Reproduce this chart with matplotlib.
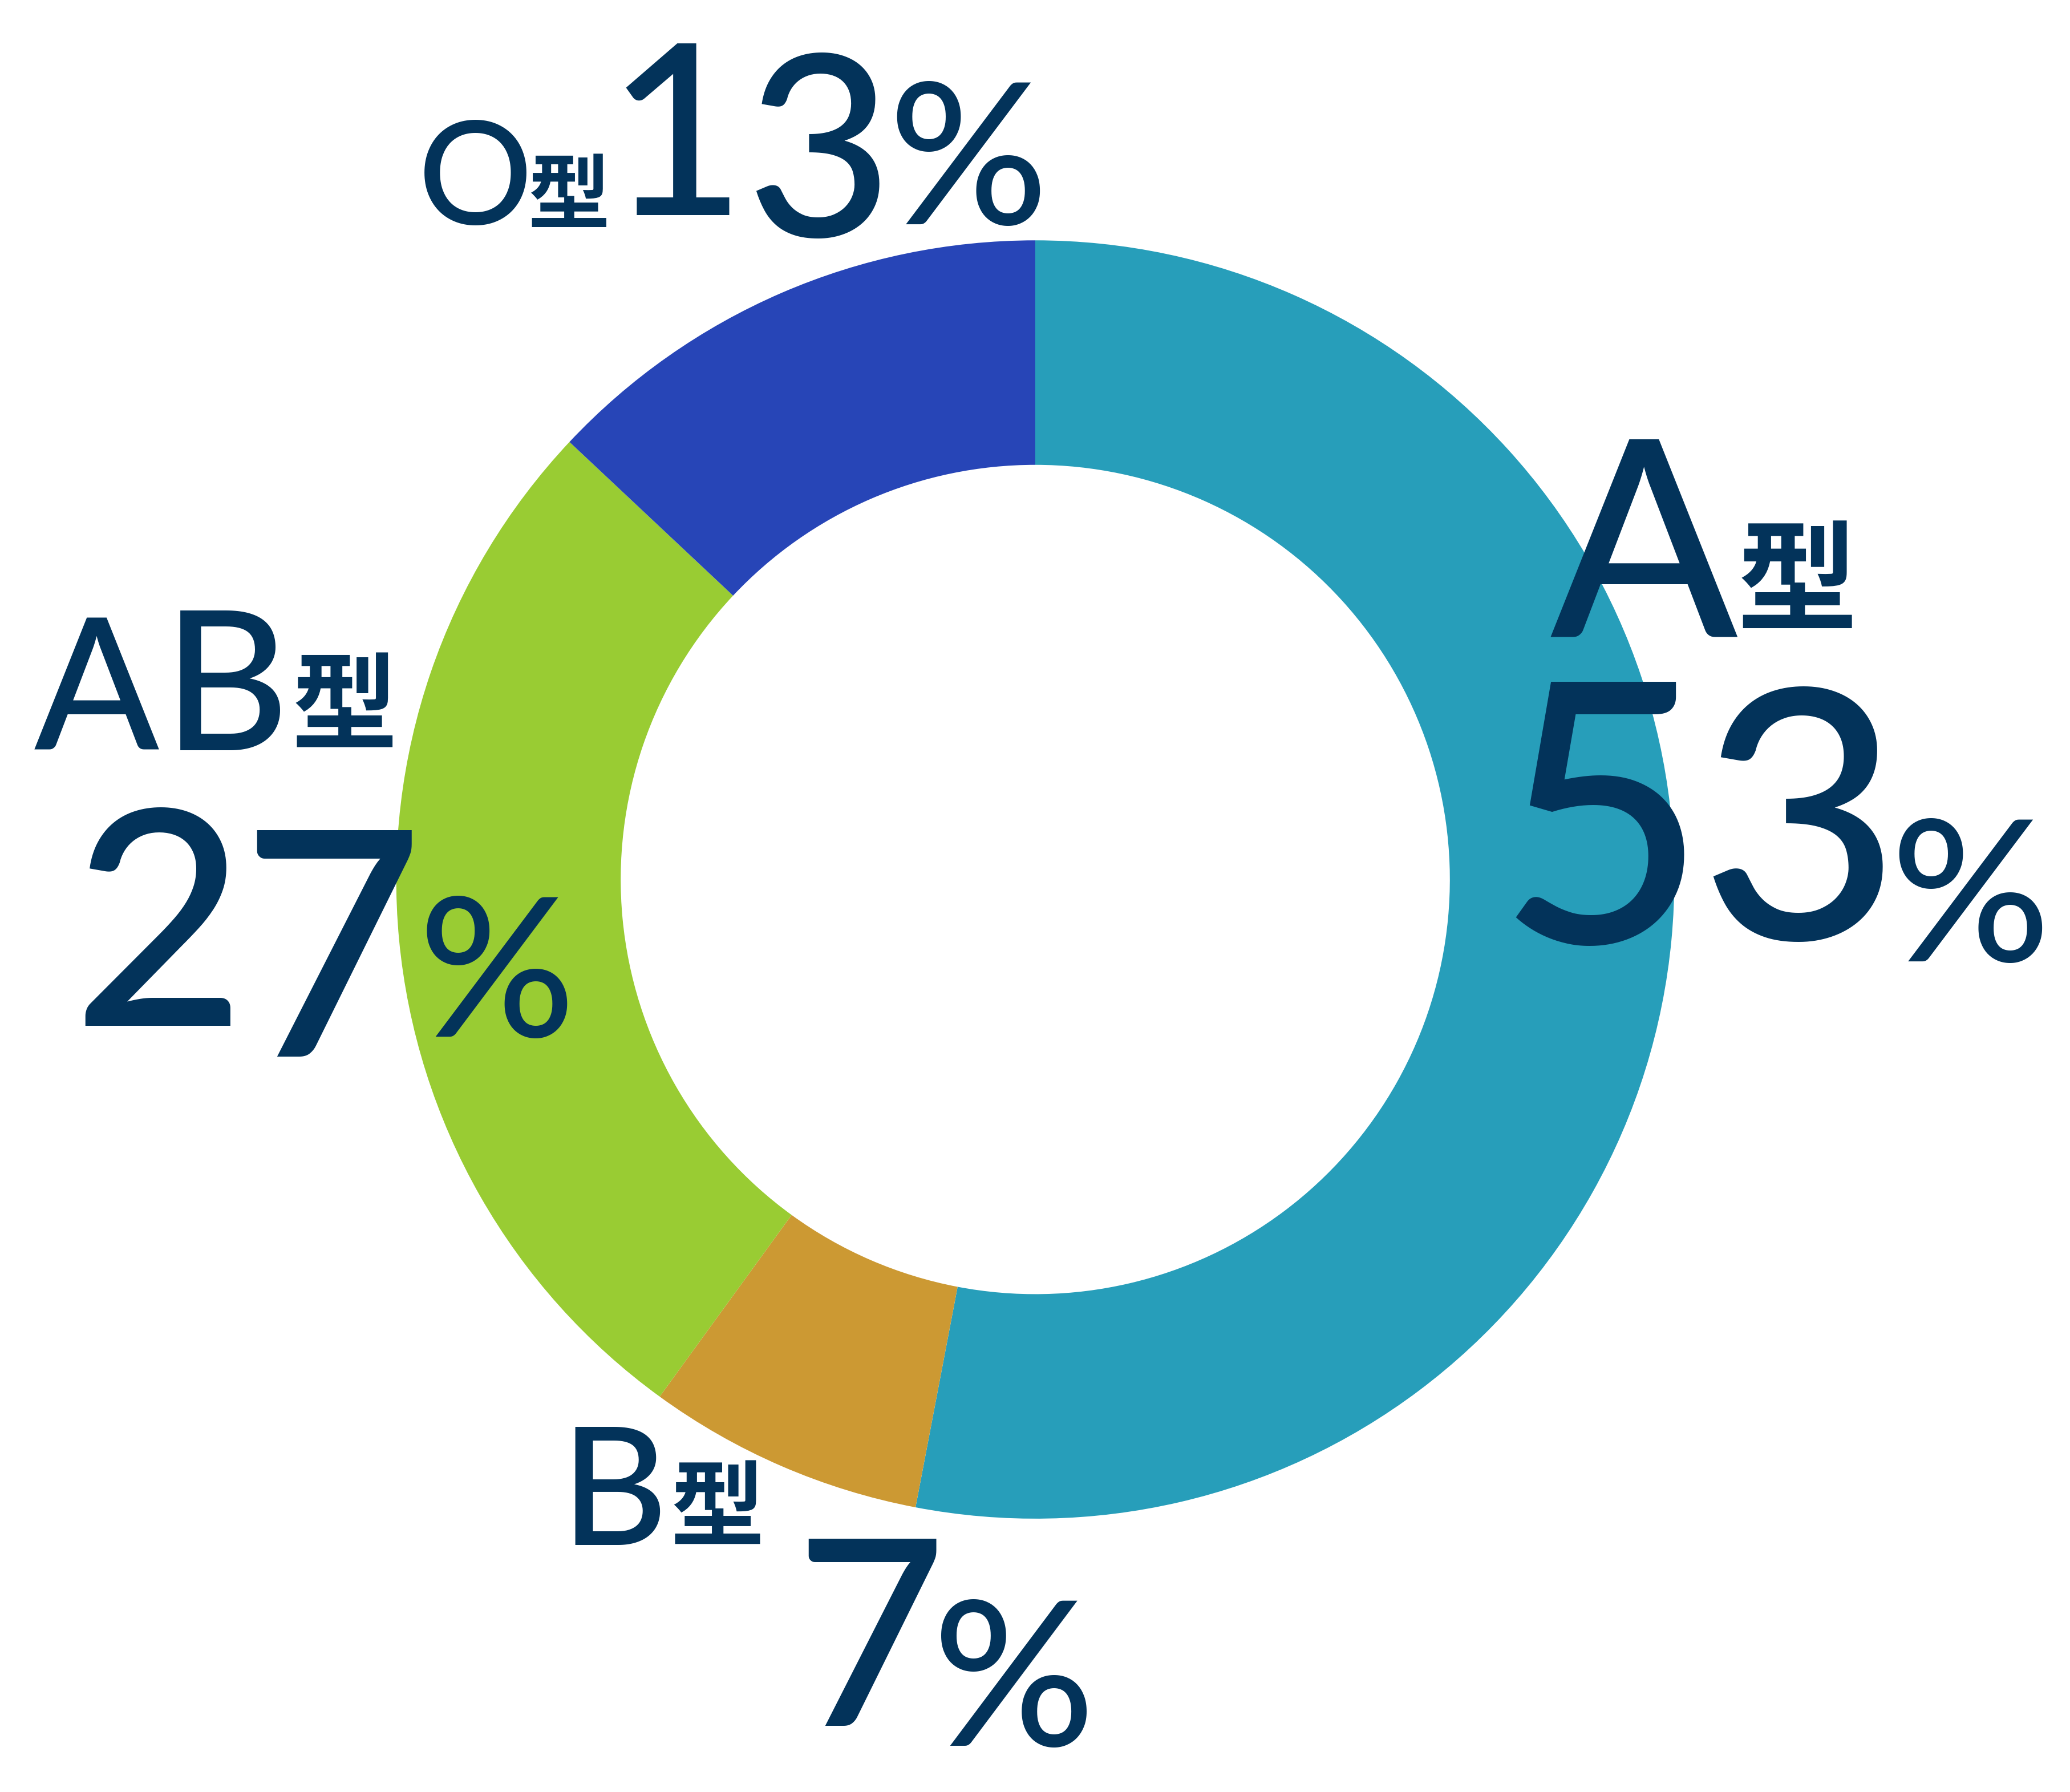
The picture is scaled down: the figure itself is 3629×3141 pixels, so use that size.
import matplotlib.pyplot as plt

# blood type shares (%), clockwise from 12 o'clock
blood_types = ["A", "B", "AB", "O"]
shares = [53, 7, 27, 13]
colors = ["#279eba", "#cc9933", "#99cc33", "#2745b7"]
suffix = "型"
navy = "#03335a"

W, H = 1568, 1357          # layout units = reference pixels (shrunk)
fig = plt.figure(figsize=(36.3, 31.41), dpi=100)
ax = fig.add_axes([0, 0, 1, 1])

# donut (y axis inverted below, so counterclock=True draws clockwise)
ax.pie(shares, colors=colors, radius=484, center=(784, 666),
       startangle=-90, counterclock=True,
       wedgeprops=dict(width=484 - 314, linewidth=0))
ax.set_xlim(0, W)
ax.set_ylim(H, 0)
ax.set_aspect("equal")
ax.axis("off")

PT = 72 / 100 * 3630 / W    # points per layout unit
CAP = 0.72                   # Lato cap / figure height in em
CJK = 0.90                   # ink height of 型 in em


def glyph(ch, cx, bottom, height, cjk=False):
    if cjk:
        em = height / CJK
        ax.text(cx, bottom - 0.07 * em, ch, ha="center", va="baseline",
                fontsize=em * PT, color=navy, family="Noto Sans CJK JP",
                fontweight="bold")
    else:
        em = height / CAP
        ax.text(cx, bottom, ch, ha="center", va="baseline",
                fontsize=em * PT, color=navy, family="Lato",
                fontweight="medium")


# per label: letter glyphs (cx, bottom, h), 型 (cx, bottom, h), digits, %
layout = {
    "A": ([(1245, 482, 150)], (1361, 477, 82),
          [(1213, 714, 198), (1363, 711, 190)], (1492, 728, 108)),
    "AB": ([(73, 568, 100), (171, 568, 106)], (261, 567, 72),
           [(120, 777, 164), (251, 800, 172)], (376, 785, 106)),
    "B": ([(465, 1170, 90)], (543, 1170, 64),
          [(659, 1307, 142)], (768, 1322, 110)),
    "O": ([(360, 170, 78)], (431, 173, 56),
          [(512, 163, 130), (620, 179, 138)], (733, 170, 108)),
}

for name, val in zip(blood_types, shares):
    letters, kata, digits, pct = layout[name]
    for ch, pos in zip(name, letters):
        glyph(ch, *pos)
    glyph(suffix, *kata, cjk=True)
    for ch, pos in zip(str(val), digits):
        glyph(ch, *pos)
    glyph("%", *pct)

fig.savefig("out.png", dpi=100, facecolor="white")
